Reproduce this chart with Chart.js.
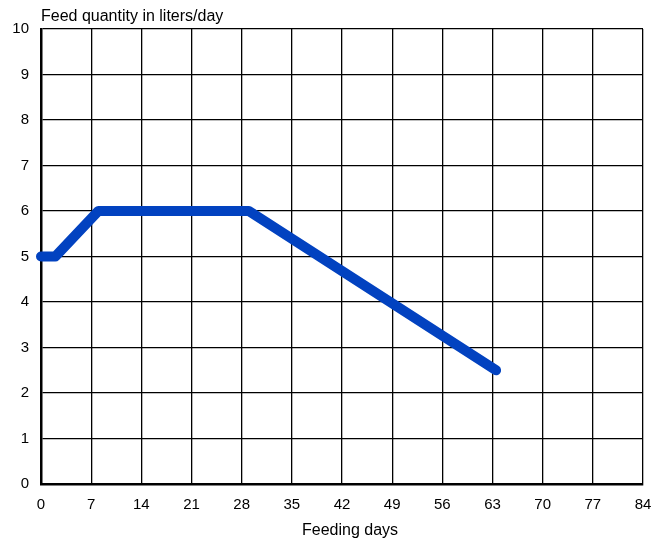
<!DOCTYPE html>
<html>
<head>
<meta charset="utf-8">
<style>
  html, body { margin: 0; padding: 0; background: #fff; }
  #wrap { width: 653px; height: 544px; }
</style>
<script src="https://cdn.jsdelivr.net/npm/chart.js@4/dist/chart.umd.min.js"></script>
</head>
<body>
<div id="wrap"><canvas id="feedChart"></canvas></div>
<script>
const days = [0, 2, 8, 29, 63.5];
const litersPerDay = [5, 5, 6, 6, 2.5];
const dayTicks = [0, 7, 14, 21, 28, 35, 42, 49, 56, 63, 70, 77, 84];
const yTitle = "Feed quantity in liters/day";
const xTitle = "Feeding days";

const family = "Arial, 'Liberation Sans', sans-serif";
const tickFont = { family, size: 15 };
const titleFont = { family, size: 16 };

// axis captions: y caption sits above the plot's left edge, x caption under the ticks
const captions = {
  id: "captions",
  afterDraw(chart) {
    const { ctx, chartArea } = chart;
    ctx.save();
    ctx.fillStyle = "#000";
    ctx.font = `${titleFont.size}px ${family}`;
    ctx.textBaseline = "alphabetic";
    ctx.textAlign = "left";
    ctx.fillText(yTitle, chartArea.left, 21);
    ctx.textAlign = "center";
    ctx.fillText(xTitle, (chartArea.left + chartArea.right) / 2 + 8, 535);
    ctx.restore();
  },
};

new Chart(document.getElementById("feedChart"), {
  type: "line",
  data: {
    datasets: [
      {
        data: days.map((d, i) => ({ x: d, y: litersPerDay[i] })),
        borderColor: "#0242c0",
        borderWidth: 10,
        borderCapStyle: "round",
        borderJoinStyle: "round",
        pointRadius: 0,
        tension: 0,
        clip: false,
      },
    ],
  },
  plugins: [captions],
  options: {
    responsive: true,
    maintainAspectRatio: false,
    animation: false,
    layout: { padding: { left: 12, right: 10, top: 29, bottom: 0 } },
    plugins: {
      legend: { display: false },
      tooltip: { enabled: false },
    },
    scales: {
      x: {
        type: "linear",
        min: 0,
        max: 84,
        afterBuildTicks: (scale) => {
          scale.ticks = dayTicks.map((v) => ({ value: v }));
        },
        afterFit: (scale) => {
          scale.height = 60;
          scale.paddingLeft = 0;
          scale.paddingRight = 0;
        },
        grid: { color: "#000", lineWidth: 1.3, drawTicks: false },
        border: { color: "#000", width: 2.5 },
        ticks: { color: "#000", font: tickFont, padding: 12, maxRotation: 0, autoSkip: false },
      },
      y: {
        min: 0,
        max: 10,
        afterFit: (scale) => {
          scale.width = 29;
          scale.paddingTop = 0;
          scale.paddingBottom = 0;
        },
        grid: { color: "#000", lineWidth: 1.3, drawTicks: false },
        border: { color: "#000", width: 2.5 },
        ticks: { color: "#000", font: tickFont, stepSize: 1, padding: 12 },
      },
    },
  },
});
</script>
</body>
</html>
